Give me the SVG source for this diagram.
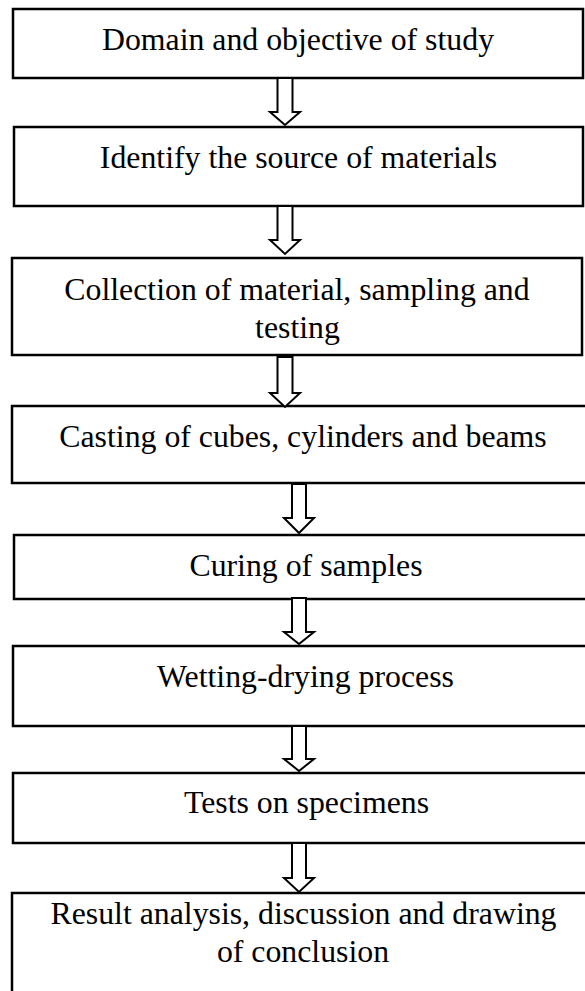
<svg xmlns="http://www.w3.org/2000/svg" width="585" height="991" viewBox="0 0 585 991">
<style>
.box{fill:#fff;stroke:#000;stroke-width:2.5}
.arr{fill:#fff;stroke:#000;stroke-width:2;stroke-linejoin:miter}
.t{font-family:"Liberation Serif","Times New Roman",serif;font-size:31.8px;fill:#000;text-anchor:middle}
</style>
<rect width="585" height="991" fill="#fff"/>
<g id="n1"><rect class="box" x="13" y="9" width="570" height="69"/><text class="t" x="298" y="50">Domain and objective of study</text></g>
<g id="n2"><rect class="box" x="14" y="127" width="569" height="79"/><text class="t" x="298.5" y="168">Identify the source of materials</text></g>
<g id="n3"><rect class="box" x="12" y="258" width="570" height="97"/><text class="t" x="297" y="300">Collection of material, sampling and</text><text class="t" x="297.5" y="338">testing</text></g>
<g id="n4"><rect class="box" x="12" y="406" width="600" height="77"/><text class="t" x="303" y="447">Casting of cubes, cylinders and beams</text></g>
<g id="n5"><rect class="box" x="14" y="535" width="600" height="64"/><text class="t" x="306" y="576">Curing of samples</text></g>
<g id="n6"><rect class="box" x="13" y="646" width="600" height="80"/><text class="t" x="305.5" y="687">Wetting-drying process</text></g>
<g id="n7"><rect class="box" x="13" y="773" width="600" height="70"/><text class="t" x="306.5" y="813">Tests on specimens</text></g>
<g id="n8"><rect class="box" x="12" y="893" width="600" height="120"/><text class="t" x="303.5" y="924">Result analysis, discussion and drawing</text><text class="t" x="303" y="962">of conclusion</text></g>
<g id="connectors">
<polygon class="arr" points="277.5,78 292.5,78 292.5,112 300,112 285,125 270,112 277.5,112"/>
<polygon class="arr" points="277.5,206 292.5,206 292.5,240 300,240 285,254 270,240 277.5,240"/>
<polygon class="arr" points="277.5,357 292.5,357 292.5,393 300,393 285,407 270,393 277.5,393"/>
<polygon class="arr" points="292,484 306,484 306,518 314,518 299,533 284,518 292,518"/>
<polygon class="arr" points="292,598 306,598 306,632 314,632 299,644 284,632 292,632"/>
<polygon class="arr" points="292,726 306,726 306,759 314,759 299,771 284,759 292,759"/>
<polygon class="arr" points="292,843 306,843 306,878 314,878 299,892 284,878 292,878"/>
</g>
</svg>
